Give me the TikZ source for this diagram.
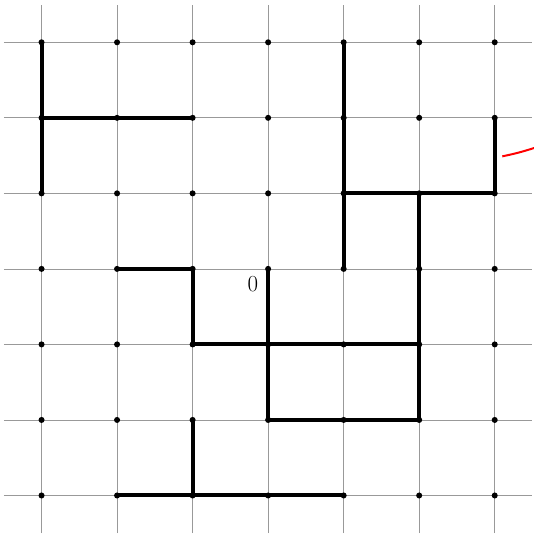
\documentclass[tikz,border=0pt]{standalone}
\usepackage{amsmath}
\usepackage{xcolor}
\usepackage{tikz}
\usetikzlibrary{positioning}

\begin{document}
\begin{tikzpicture}[x = 2cm, y = 2cm,
    dot/.style = {circle, fill, inner sep = 0pt, minimum size = 0.16cm},
    path/.style = {line width = 3pt},
    walk/.style = {red, line width = 1.5pt}]
        \useasboundingbox (-3.55,-3.51) rectangle (3.51,3.56);
        \draw[gray!80, line width = 0.5pt, step = 2cm] (-3.5,-3.5) grid (3.5,3.5);

        \foreach \i in {0,...,6} {
          \foreach \j in {0,...,6} {
            \node[dot] (v\i\j) at (\i-3,\j-3) {};
          }
        }
        \node (o) [below left=0.03cm and 0.08cm of v33, font=\LARGE] {$0$};

        \draw[path] (v06.center) -- (v04.center);
        \draw[path] (v05.center) -- (v25.center);
        \draw[path] (v46.center) -- (v43.center);
        \draw[path] (v44.center) -- (v64.center) -- (v65.center);
        \draw[path] (v54.center) -- (v51.center) -- (v31.center) -- (v33.center);
        \draw[path] (v13.center) -- (v23.center) -- (v22.center) -- (v52.center);
        \draw[path] (v21.center) -- (v20.center);
        \draw[path] (v10.center) -- (v40.center);

        \coordinate (r1) at (3.1,1.49);
        \coordinate (r2) at (3.52,1.6);
        \draw[walk] (r1) to[bend right=3] (r2);
        % dots on top of the thick lines
      \end{tikzpicture}
\end{document}
